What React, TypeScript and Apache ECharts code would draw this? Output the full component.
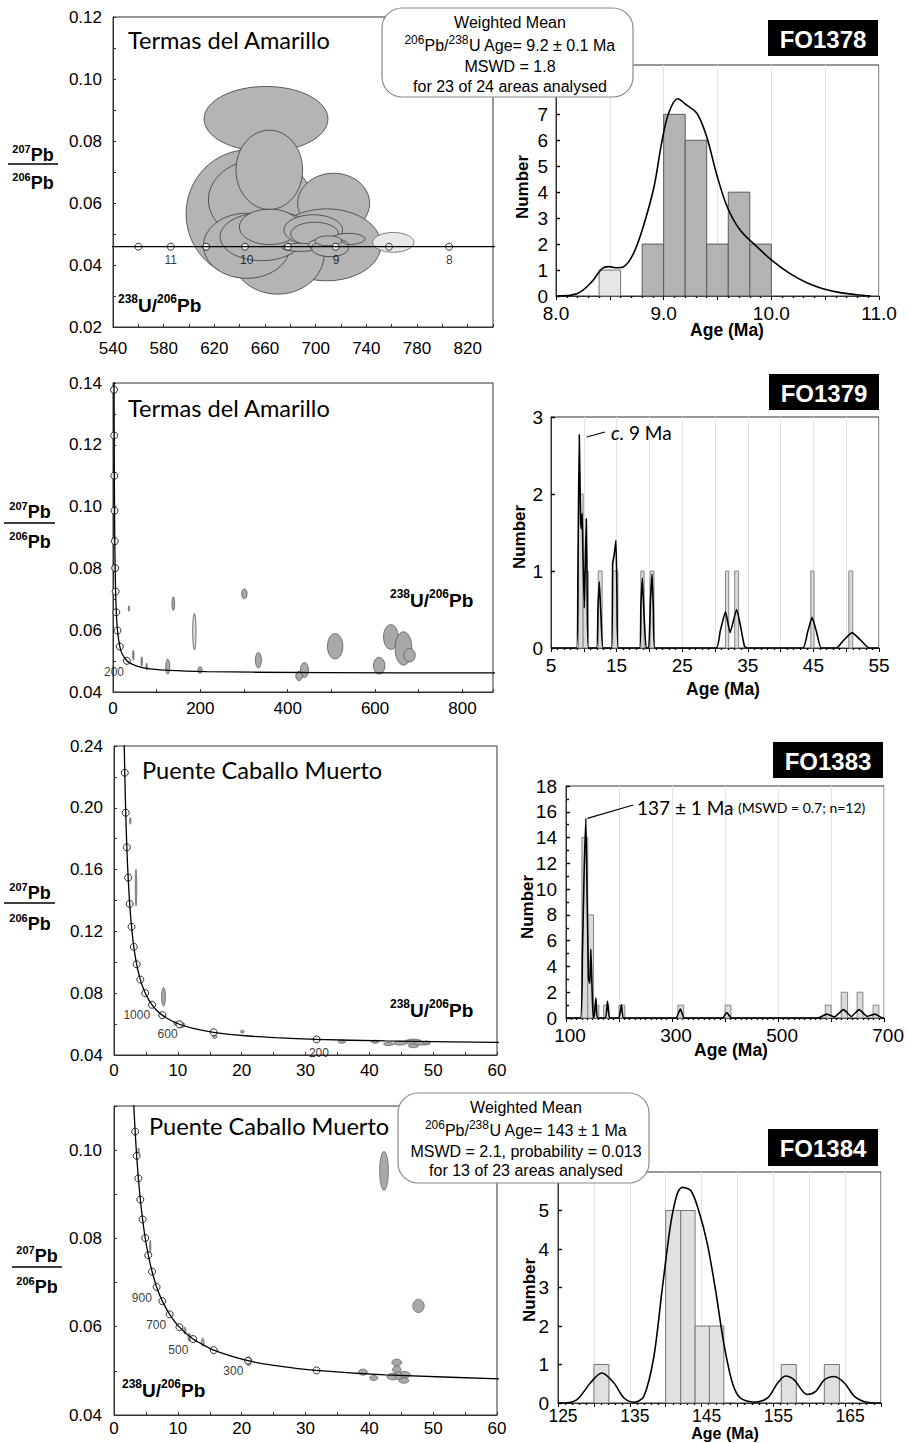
import React, { useEffect, useRef } from "react";
import * as echarts from "echarts";

const FONT = '"Liberation Sans", Arial, Helvetica, sans-serif';
const TFONT = 'Lato, "Open Sans", sans-serif';

// ================= FO1378 – Termas del Amarillo (Tera-Wasserburg) =================
const fo1378Concordia = [[530, 0.0459], [850, 0.0459]];
const fo1378AgeMarks = [[560.1, 0.0459], [585.6, 0.0459], [613.5, 0.0459], [644.2, 0.0459], [678.1, 0.0459], [715.8, 0.0459], [757.9, 0.0459], [805.3, 0.0459]];
const fo1378AgeLabels = [[585.6, 0.0416, "11"], [645.5, 0.0416, "10"], [716.1, 0.0416, "9"], [805.6, 0.0416, "8"]];
// [x, y, rx, ry]
const fo1378Ellipses = [
  [660.8, 0.0871, 48.9, 0.0105],
  [647.4, 0.0565, 49.7, 0.0207],
  [656.1, 0.061, 40.8, 0.0131],
  [663.4, 0.0707, 26.3, 0.0128],
  [714.2, 0.0599, 28.4, 0.0097],
  [708.7, 0.0465, 42.9, 0.0116],
  [670.0, 0.0438, 36.9, 0.0132],
  [645.6, 0.0462, 34.2, 0.0105],
  [657.4, 0.0491, 32.9, 0.0077],
  [663.7, 0.0523, 23.9, 0.0057],
  [698.1, 0.0513, 23.1, 0.0049],
  [699.2, 0.05, 18.9, 0.0038],
  [725.8, 0.0484, 13.2, 0.0018],
  [687.6, 0.0457, 14.5, 0.0013],
  [710.0, 0.0465, 15.8, 0.0022],
  [711.3, 0.0454, 14.5, 0.0027],
  [710.0, 0.0478, 10.5, 0.0016],
];
const fo1378RejectedEllipses = [[761.3, 0.0473, 16.3, 0.0032]];

// FO1378 histogram: [from, to, count]
const fo1378Bins = [[8.8, 9.0, 2], [9.0, 9.2, 7], [9.2, 9.4, 6], [9.4, 9.6, 2], [9.6, 9.8, 4], [9.8, 10.0, 2]];
const fo1378RejectedBins = [[8.4, 8.6, 1]];
const fo1378Pdf = [
  [8.0, 0], [8.2, 0.1], [8.32, 0.49], [8.43, 1.06], [8.49, 1.13], [8.57, 1.09], [8.63, 1.13], [8.72, 1.64],
  [8.81, 2.67], [8.91, 4.2], [8.98, 5.87], [9.045, 7.03], [9.13, 7.6], [9.215, 7.35], [9.31, 7.03], [9.4, 6.13],
  [9.49, 4.72], [9.59, 3.44], [9.71, 2.54], [9.865, 1.9], [10.02, 1.32], [10.17, 0.87], [10.33, 0.51],
  [10.48, 0.28], [10.64, 0.13], [10.79, 0.05], [10.92, 0],
];

// ================= FO1379 – Termas del Amarillo =================
const fo1379Concordia = [
  [2.217, 0.1548], [2.459, 0.1378], [2.749, 0.123], [3.104, 0.11], [3.55, 0.0987], [4.123, 0.0888], [4.888, 0.0801],
  [5.96, 0.0725], [7.568, 0.0658], [10.25, 0.0599], [15.62, 0.0547], [20.99, 0.0523], [31.73, 0.0501], [42.48, 0.0491],
  [63.97, 0.048], [85.45, 0.0475], [128.4, 0.047], [214.4, 0.0466], [321.8, 0.0464], [644.2, 0.0462], [859.0, 0.0462], [900, 0.0462],
];
const fo1379AgeMarks = [
  [2.459, 0.1378], [2.749, 0.123], [3.104, 0.11], [3.55, 0.0987], [4.123, 0.0888], [4.888, 0.0801],
  [5.96, 0.0725], [7.568, 0.0658], [10.25, 0.0599], [15.62, 0.0547], [31.73, 0.0501],
];
const fo1379AgeLabels = [[2.3, 0.0466, "200"]];
const fo1379Ellipses = [
  [508.6, 0.0548, 17.6, 0.0041], [636.2, 0.0578, 16.8, 0.004], [665.0, 0.0541, 19.1, 0.0054], [678.9, 0.0519, 13.0, 0.0022],
  [609.4, 0.0485, 13.0, 0.0027], [438.3, 0.0471, 9.2, 0.0024], [426.1, 0.0452, 7.6, 0.0015], [332.9, 0.0503, 6.9, 0.0025],
  [300.8, 0.0718, 6.1, 0.0016], [199.3, 0.0471, 4.6, 0.0011], [138.1, 0.0686, 3.0, 0.0022], [125.3, 0.0482, 4.6, 0.0024],
  [36.6, 0.067, 1.5, 0.0009], [46.6, 0.0519, 1.5, 0.0016], [65.7, 0.0498, 1.5, 0.0016], [77.1, 0.0482, 1.2, 0.0011],
];
const fo1379LightEllipses = [[186.3, 0.0595, 3.8, 0.0059]];

const fo1379Bins = [
  [9.2, 9.9, 2], [9.9, 10.7, 1], [12.2, 12.8, 1], [14.4, 15.2, 1], [18.7, 19.2, 1], [20.1, 20.7, 1],
  [31.6, 32.1, 1], [33.0, 33.6, 1], [44.6, 45.1, 1], [50.4, 51.0, 1],
];
const fo1379Pdf = [
  [5, 0], [8.9, 0], [9.1, 1.0], [9.31, 2.77], [9.5, 1.7], [9.62, 1.55], [9.75, 1.75], [9.85, 1.3], [10.08, 0.52],
  [10.2, 1.0], [10.38, 1.68], [10.5, 0.9], [10.7, 0], [11.95, 0], [12.15, 0.5], [12.36, 0.86], [12.6, 0.45], [12.95, 0],
  [14.2, 0], [14.4, 1.1], [14.6, 1.19], [14.9, 1.4], [15.05, 0.7], [15.25, 0], [18.5, 0], [18.7, 0.55], [18.92, 0.91],
  [19.15, 0.5], [19.5, 0], [19.9, 0], [20.15, 0.6], [20.4, 0.96], [20.6, 0.5], [20.85, 0], [30.2, 0], [30.8, 0.22],
  [31.6, 0.47], [32.3, 0.2], [33.3, 0.5], [33.9, 0.28], [34.5, 0.02], [35, 0], [43.4, 0], [44.1, 0.2], [44.8, 0.4],
  [45.5, 0.2], [46.2, 0], [48.5, 0], [49.6, 0.1], [50.9, 0.2], [52.1, 0.11], [53.5, 0], [55, 0],
];

// ================= FO1383 – Puente Caballo Muerto =================
const fo1383Concordia = [
  [1.556, 0.2524], [1.62, 0.237], [1.687, 0.2227], [1.76, 0.2093], [1.838, 0.1968], [1.923, 0.1852], [2.013, 0.1744],
  [2.111, 0.1643], [2.217, 0.1548], [2.333, 0.146], [2.459, 0.1378], [2.597, 0.1302], [2.749, 0.123], [2.917, 0.1163],
  [3.104, 0.11], [3.314, 0.1042], [3.55, 0.0987], [3.817, 0.0936], [4.123, 0.0888], [4.476, 0.0843], [4.888, 0.0801],
  [5.375, 0.0762], [5.96, 0.0725], [6.674, 0.069], [7.568, 0.0658], [8.718, 0.0628], [10.25, 0.0599], [12.4, 0.0572],
  [15.62, 0.0547], [20.99, 0.0523], [25.29, 0.0512], [31.73, 0.0501], [42.48, 0.0491], [63.97, 0.048],
];
const fo1383AgeMarks = [
  [1.687, 0.2227], [1.838, 0.1968], [2.013, 0.1744], [2.217, 0.1548], [2.459, 0.1378], [2.749, 0.123], [3.104, 0.11],
  [3.55, 0.0987], [4.123, 0.0888], [4.888, 0.0801], [5.96, 0.0725], [7.568, 0.0658], [10.25, 0.0599], [15.62, 0.0547], [31.73, 0.0501],
];
const fo1383AgeLabels = [[3.56, 0.0659, "1000"], [8.39, 0.0534, "600"], [32.1, 0.0413, "200"]];
const fo1383Ellipses = [
  [7.76, 0.0777, 0.31, 0.006], [3.45, 0.1483, 0.12, 0.0119], [2.55, 0.1915, 0.12, 0.0022], [10.6, 0.0594, 0.52, 0.0017],
  [9.7, 0.0604, 0.35, 0.0013], [15.8, 0.0518, 0.36, 0.0011], [20.1, 0.0551, 0.31, 0.0009], [31.8, 0.0501, 0.6, 0.0013],
  [35.7, 0.0486, 0.6, 0.001], [40.9, 0.0486, 0.6, 0.001], [43.0, 0.0471, 0.78, 0.001], [44.8, 0.0476, 1.0, 0.0012],
  [46.9, 0.0486, 1.3, 0.0017], [46.9, 0.0459, 0.78, 0.0012], [48.2, 0.0476, 1.3, 0.0012], [49.0, 0.048, 0.6, 0.001],
];

const fo1383Bins = [
  [130, 141, 14], [141, 152, 8], [152, 162, 1], [171, 181, 1], [200, 211, 1], [311, 322, 1], [400, 411, 1],
  [589, 600, 1], [619, 631, 2], [649, 660, 2], [679, 690, 1],
];
const fo1383Pdf = [
  [100, 0], [127, 0], [131, 5], [134, 11], [137.5, 15.5], [140, 9], [142.5, 3], [145, 2.7], [146.9, 5.35], [149, 2.5],
  [151.2, 0], [153.5, 0.2], [156.3, 1.55], [159.4, 0], [174.4, 0], [178.2, 1.29], [182.5, 0], [199.5, 0], [204.5, 1.03],
  [209, 0], [307, 0], [315.8, 0.7], [323, 0], [395, 0], [403.3, 0.43], [412, 0], [575, 0], [592, 0.3], [606, 0.08],
  [623.5, 0.65], [638, 0.12], [652.9, 0.65], [668, 0.12], [682.9, 0.3], [697, 0], [700, 0],
];

// ================= FO1384 – Puente Caballo Muerto =================
const fo1384Concordia = [
  [2.917, 0.1163], [3.104, 0.11], [3.314, 0.1042], [3.55, 0.0987], [3.817, 0.0936], [4.123, 0.0888], [4.476, 0.0843],
  [4.888, 0.0801], [5.375, 0.0762], [5.96, 0.0725], [6.674, 0.069], [7.568, 0.0658], [8.718, 0.0628], [10.25, 0.0599],
  [12.4, 0.0572], [15.62, 0.0547], [20.99, 0.0523], [25.29, 0.0512], [31.73, 0.0501], [42.48, 0.0491], [63.97, 0.048],
];
const fo1384AgeMarks = [
  [3.314, 0.1042], [3.55, 0.0987], [3.817, 0.0936], [4.123, 0.0888], [4.476, 0.0843], [4.888, 0.0801], [5.375, 0.0762],
  [5.96, 0.0725], [6.674, 0.069], [7.568, 0.0658], [8.718, 0.0628], [10.25, 0.0599], [12.4, 0.0572], [15.62, 0.0547],
  [20.99, 0.0523], [31.73, 0.0501],
];
const fo1384AgeLabels = [[4.36, 0.0666, "900"], [6.61, 0.0604, "700"], [10.08, 0.0547, "500"], [18.7, 0.05, "300"]];
const fo1384Ellipses = [
  [42.3, 0.0953, 0.68, 0.0044], [47.7, 0.0647, 0.89, 0.0015], [44.3, 0.0519, 0.78, 0.00075], [44.3, 0.0503, 0.68, 0.00075],
  [39.0, 0.0497, 0.68, 0.0007], [40.7, 0.0484, 0.63, 0.0006], [43.7, 0.0487, 0.94, 0.00075], [45.4, 0.0491, 1.04, 0.00075],
  [45.4, 0.0478, 0.78, 0.0006], [44.6, 0.0489, 0.52, 0.0009], [21.1, 0.0522, 0.42, 0.001], [13.9, 0.0565, 0.21, 0.0009],
  [11.8, 0.0576, 0.21, 0.0009], [11.1, 0.0591, 0.16, 0.0008], [5.68, 0.0781, 0.1, 0.0015], [3.85, 0.0996, 0.1, 0.0009],
];

const fo1384Bins = [
  [130, 132.1, 1], [140, 142.1, 5], [142.1, 144.1, 5], [144.1, 146.1, 2], [146.1, 148.1, 2], [156.1, 158.2, 1], [162.1, 164.2, 1],
];
const fo1384Pdf = [
  [125, 0], [125.6, 0], [127.65, 0.09], [129.5, 0.52], [131.1, 0.78], [132.8, 0.52], [134.2, 0.13], [135.6, 0.02],
  [136.95, 0.17], [138.35, 1.2], [139.5, 2.93], [140.7, 4.65], [141.6, 5.43], [142.3, 5.6], [143.5, 5.52], [144.6, 5.0],
  [145.8, 4.14], [146.95, 2.93], [148.1, 1.55], [149.3, 0.52], [150.4, 0.13], [152.3, 0.02], [154.2, 0.13], [155.6, 0.52],
  [156.7, 0.7], [157.9, 0.6], [159.7, 0.22], [160.9, 0.3], [162.1, 0.6], [163.5, 0.69], [164.9, 0.52], [166.3, 0.17],
  [167.7, 0.03], [169, 0], [170, 0],
];

// ---------------- helpers ----------------
const isMult = (v: number, base: number, step: number) => {
  const k = (v - base) / step;
  return Math.abs(k - Math.round(k)) < 1e-6;
};

const ellipseSeries = (idx: number, data: number[][], fill: string, stroke: string) => ({
  type: "custom",
  xAxisIndex: idx,
  yAxisIndex: idx,
  clip: true,
  silent: true,
  data,
  encode: { x: 0, y: 1 },
  renderItem: (_p: any, api: any) => {
    const c = api.coord([api.value(0), api.value(1)]);
    const s = api.size([api.value(2), api.value(3)]);
    return {
      type: "ellipse",
      shape: { cx: c[0], cy: c[1], rx: Math.max(s[0], 0.6), ry: Math.max(s[1], 0.6) },
      style: { fill, stroke, lineWidth: 0.8 },
    };
  },
});

const binSeries = (idx: number, data: number[][], fill: string, stroke: string) => ({
  type: "custom",
  xAxisIndex: idx,
  yAxisIndex: idx,
  silent: true,
  data,
  encode: { x: [0, 1], y: 2 },
  renderItem: (_p: any, api: any) => {
    const a = api.coord([api.value(0), 0]);
    const b = api.coord([api.value(1), api.value(2)]);
    return {
      type: "rect",
      shape: { x: a[0], y: b[1], width: b[0] - a[0], height: a[1] - b[1] },
      style: { fill, stroke, lineWidth: 1 },
    };
  },
});

const lineSeries = (idx: number, data: number[][], smooth: number, width = 1.3) => ({
  type: "line",
  xAxisIndex: idx,
  yAxisIndex: idx,
  data,
  showSymbol: false,
  silent: true,
  smooth,
  clip: true,
  lineStyle: { color: "#000", width },
});

const markSeries = (idx: number, data: number[][]) => ({
  type: "scatter",
  xAxisIndex: idx,
  yAxisIndex: idx,
  data,
  symbol: "circle",
  symbolSize: 7,
  silent: true,
  clip: false,
  itemStyle: { color: "#fff", borderColor: "#000", borderWidth: 1 },
});

const labelSeries = (idx: number, data: any[][]) => ({
  type: "scatter",
  xAxisIndex: idx,
  yAxisIndex: idx,
  data,
  symbolSize: 1,
  silent: true,
  clip: false,
  itemStyle: { color: "rgba(0,0,0,0)" },
  label: {
    show: true,
    position: "inside",
    formatter: (p: any) => String(p.value[2]),
    fontFamily: FONT,
    fontSize: 12,
    color: "#000",
    textBorderWidth: 0,
  },
});

const axisBase = {
  type: "value",
  axisLine: { show: true, onZero: false, lineStyle: { color: "#333", width: 1 } },
  splitLine: { show: false },
};

const concX = (gi: number, min: number, max: number, interval: number, labelStep: number, margin: number) => ({
  ...axisBase,
  gridIndex: gi,
  min,
  max,
  interval,
  axisTick: { show: true, inside: true, length: 3, lineStyle: { color: "#333" } },
  axisLabel: {
    fontFamily: FONT,
    fontSize: 17,
    color: "#000",
    margin,
    formatter: (v: number) => (isMult(v, min, labelStep) && v <= max ? String(v) : ""),
  },
});

const concY = (gi: number, min: number, max: number, interval: number, margin: number) => ({
  ...axisBase,
  gridIndex: gi,
  min,
  max,
  interval,
  axisTick: { show: true, inside: true, length: 3, lineStyle: { color: "#333" } },
  minorTick: { show: true, splitNumber: 2, length: 3, lineStyle: { color: "#333" } },
  axisLabel: {
    fontFamily: FONT,
    fontSize: 17,
    color: "#000",
    margin,
    formatter: (v: number) => (isMult(v, min, interval) && v <= max + 1e-9 && isMult(v, 0, interval) ? v.toFixed(2) : ""),
  },
});

const histX = (
  gi: number, min: number, max: number, interval: number, labelStep: number, minorSplit: number,
  fmt: (v: number) => string, fontSize = 19, margin = 8, padLeft = 0
) => ({
  ...axisBase,
  gridIndex: gi,
  min,
  max,
  interval,
  splitLine: { show: true, lineStyle: { color: "#e4e4e4", width: 1 } },
  axisTick: { show: true, inside: false, length: 4, lineStyle: { color: "#000" } },
  minorTick: { show: true, splitNumber: minorSplit, length: 2, lineStyle: { color: "#000", width: 1.4 } },
  axisLabel: {
    fontFamily: FONT,
    fontSize,
    color: "#000",
    margin,
    padding: [0, 0, 0, padLeft],
    formatter: (v: number) => (isMult(v, min, labelStep) ? fmt(v) : ""),
  },
});

// labels above `lastLabel` are hidden behind the callout boxes in the original
const histY = (gi: number, max: number, interval: number, minor: boolean, lastLabel: number, margin = 8) => ({
  ...axisBase,
  gridIndex: gi,
  min: 0,
  max,
  interval,
  axisTick: { show: true, inside: true, length: 4, lineStyle: { color: "#000", width: 1.4 } },
  minorTick: { show: minor, splitNumber: 2, length: 3, lineStyle: { color: "#000", width: 1.4 } },
  axisLabel: {
    fontFamily: FONT,
    fontSize: 19,
    color: "#000",
    margin,
    formatter: (v: number) => (isMult(v, 0, interval) && v <= lastLabel + 1e-9 ? String(Math.round(v)) : ""),
  },
});

// ---------------- graphic helpers ----------------
const text = (x: number, y: number, t: string, o: any = {}) => ({
  type: "text",
  x,
  y,
  z: 100,
  silent: true,
  style: {
    text: t,
    fontFamily: FONT,
    fontSize: 16,
    fill: "#000",
    textAlign: "center",
    textVerticalAlign: "middle",
    ...o,
  },
});

const supRich = (main: number, sup: number) => ({
  s: { fontFamily: FONT, fontSize: sup, fontWeight: "bold", lineHeight: sup + 1, verticalAlign: "top" },
  b: { fontFamily: FONT, fontSize: main, fontWeight: "bold", lineHeight: main + 6 },
});

const fraction = (cx: number, yTop: number, yLine: number, yBot: number, x1: number, x2: number) => [
  text(cx, yTop, "{s|207}{b|Pb}", { rich: supRich(18, 11) }),
  { type: "line", z: 100, silent: true, shape: { x1, y1: yLine, x2, y2: yLine }, style: { stroke: "#000", lineWidth: 1.5 } },
  text(cx, yBot, "{s|206}{b|Pb}", { rich: supRich(18, 11) }),
];

const ratio = (x: number, y: number) =>
  text(x, y, "{s|238}{b|U/}{s|206}{b|Pb}", { textAlign: "left", rich: supRich(19, 12) });

const title = (x: number, y: number, t: string) =>
  text(x, y, t, { textAlign: "left", fontFamily: TFONT, fontSize: 23.6 });

const sampleBox = (x: number, y: number, w: number, h: number, t: string) => [
  { type: "rect", z: 100, silent: true, shape: { x, y, width: w, height: h }, style: { fill: "#000" } },
  text(x + w / 2, y + h / 2 + 1, t, { fill: "#fff", fontWeight: "bold", fontSize: 24 }),
];

const calloutRich = {
  s: { fontFamily: FONT, fontSize: 12, lineHeight: 12, verticalAlign: "top" },
  n: { fontFamily: FONT, fontSize: 16, lineHeight: 22 },
};

const callout = (x: number, y: number, w: number, h: number, cx: number, lines: [number, string][]) => [
  {
    type: "rect",
    z: 99,
    silent: true,
    shape: { x, y, width: w, height: h, r: 20 },
    style: { fill: "#fff", stroke: "#8a8a8a", lineWidth: 1.2 },
  },
  ...lines.map(([ly, t]) => text(cx, ly, t, { rich: calloutRich })),
];

const axisTitleY = (x: number, y: number) =>
  ({ ...text(x, y, "Number", { fontWeight: "bold", fontSize: 17 }), rotation: Math.PI / 2 });
const axisTitleX = (x: number, y: number, size = 17.5) => text(x, y, "Age (Ma)", { fontWeight: "bold", fontSize: size });

function buildOption() {
  const gridBase = { show: true, borderColor: "#333", borderWidth: 1, backgroundColor: "transparent", containLabel: false };
  const grid = [
    { left: 113, top: 17, width: 380, height: 310 },
    { left: 556, top: 65, width: 323, height: 231 },
    { left: 113, top: 383, width: 380, height: 309 },
    { left: 551, top: 417, width: 328, height: 231 },
    { left: 114, top: 746, width: 383, height: 309 },
    { left: 566, top: 786, width: 320, height: 232 },
    { left: 114, top: 1106, width: 383, height: 309 },
    { left: 558, top: 1172, width: 323, height: 231 },
  ].map((g) => ({ ...gridBase, ...g }));

  const xAxis = [
    concX(0, 540, 840, 20, 40, 13),
    histX(1, 8, 11, 0.5, 1, 5, (v) => v.toFixed(1)),
    concX(2, 0, 870, 100, 200, 8),
    histX(3, 5, 55, 5, 10, 5, (v) => String(v)),
    concX(4, 0, 60, 5, 10, 7),
    histX(5, 100, 700, 100, 200, 10, (v) => String(v), 19, 8, 8),
    concX(6, 0, 60, 5, 10, 5),
    histX(7, 125, 170, 5, 10, 5, (v) => String(v), 17.5, 4, 10),
  ];
  const yAxis = [
    concY(0, 0.02, 0.12, 0.02, 11),
    histY(1, 8.9, 1, false, 7),
    concY(2, 0.04, 0.14, 0.02, 11),
    histY(3, 3, 1, false, 3),
    concY(4, 0.04, 0.24, 0.04, 11),
    histY(5, 18, 2, true, 18, 9),
    concY(6, 0.04, 0.11, 0.02, 12),
    histY(7, 6, 1, false, 5, 9),
  ];

  const series: any[] = [
    // panel 0
    ellipseSeries(0, fo1378Ellipses, "#b4b4b4", "#3a3a3a"),
    ellipseSeries(0, fo1378RejectedEllipses, "#e8e8e8", "#666"),
    lineSeries(0, fo1378Concordia, 0, 1.2),
    markSeries(0, fo1378AgeMarks),
    labelSeries(0, fo1378AgeLabels),
    // panel 1
    binSeries(1, fo1378Bins, "#b3b3b3", "#5a5a5a"),
    binSeries(1, fo1378RejectedBins, "#e6e6e6", "#777"),
    lineSeries(1, fo1378Pdf, 0.35, 1.6),
    // panel 2
    lineSeries(2, fo1379Concordia, 0.2, 1.3),
    markSeries(2, fo1379AgeMarks),
    ellipseSeries(2, fo1379Ellipses, "#a9a9a9", "#555"),
    ellipseSeries(2, fo1379LightEllipses, "#dcdcdc", "#555"),
    labelSeries(2, fo1379AgeLabels),
    // panel 3
    binSeries(3, fo1379Bins, "#dadada", "#888"),
    lineSeries(3, fo1379Pdf, 0.15, 1.6),
    // panel 4
    lineSeries(4, fo1383Concordia, 0.2, 1.3),
    markSeries(4, fo1383AgeMarks),
    ellipseSeries(4, fo1383Ellipses, "#a9a9a9", "#666"),
    labelSeries(4, fo1383AgeLabels),
    // panel 5
    binSeries(5, fo1383Bins, "#dadada", "#888"),
    lineSeries(5, fo1383Pdf, 0.15, 1.6),
    // panel 6
    lineSeries(6, fo1384Concordia, 0.2, 1.3),
    markSeries(6, fo1384AgeMarks),
    ellipseSeries(6, fo1384Ellipses, "#a9a9a9", "#666"),
    labelSeries(6, fo1384AgeLabels),
    // panel 7
    binSeries(7, fo1384Bins, "#e0e0e0", "#777"),
    lineSeries(7, fo1384Pdf, 0.3, 1.6),
  ];

  const graphic: any[] = [
    // panel titles
    title(128, 40, "Termas del Amarillo"),
    title(128, 408, "Termas del Amarillo"),
    title(142, 770, "Puente Caballo Muerto"),
    title(149, 1126, "Puente Caballo Muerto"),
    // y-axis fraction labels
    ...fraction(33, 155, 164, 183, 8, 58),
    ...fraction(30, 512, 523, 542, 4, 55),
    ...fraction(30, 893, 903, 924, 4, 55),
    ...fraction(37, 1256, 1267, 1287, 12, 62),
    // x ratio labels
    ratio(118, 305),
    ratio(390, 600),
    ratio(390, 1010),
    ratio(122, 1390),
    // sample boxes
    ...sampleBox(768, 20, 110, 36, "FO1378"),
    ...sampleBox(769, 374, 110, 36, "FO1379"),
    ...sampleBox(773, 742, 110, 36, "FO1383"),
    ...sampleBox(768, 1129, 110, 37, "FO1384"),
    // callouts
    ...callout(382, 8, 251, 89, 510, [
      [22.5, "{n|Weighted Mean}"],
      [45, "{s|206}{n|Pb/}{s|238}{n|U Age= 9.2 ± 0.1 Ma}"],
      [66.5, "{n|MSWD = 1.8}"],
      [86, "{n|for 23 of 24 areas analysed}"],
    ]),
    ...callout(398, 1093, 251, 90, 526, [
      [1107, "{n|Weighted Mean}"],
      [1130, "{s|206}{n|Pb/}{s|238}{n|U Age= 143 ± 1 Ma}"],
      [1151, "{n|MSWD = 2.1, probability = 0.013}"],
      [1170, "{n|for 13 of 23 areas analysed}"],
    ]),
    // histogram axis titles
    axisTitleY(522, 187),
    axisTitleX(727, 330),
    axisTitleY(519, 537),
    axisTitleX(723, 689),
    axisTitleY(527, 907),
    axisTitleX(731, 1050),
    axisTitleY(529, 1290),
    axisTitleX(725, 1433, 16),
    // annotations
    { type: "line", z: 100, silent: true, shape: { x1: 586.7, y1: 437, x2: 605, y2: 432 }, style: { stroke: "#000", lineWidth: 1.2 } },
    text(611, 432, "{i|c.}{n| 9 Ma}", {
      textAlign: "left",
      rich: {
        i: { fontFamily: TFONT, fontSize: 19, fontStyle: "italic" },
        n: { fontFamily: TFONT, fontSize: 19 },
      },
    }),
    { type: "line", z: 100, silent: true, shape: { x1: 587.3, y1: 818.3, x2: 633.3, y2: 805 }, style: { stroke: "#000", lineWidth: 1.2 } },
    text(637, 807, "{a|137 ± 1 Ma} {b|(MSWD = 0.7; n=12)}", {
      textAlign: "left",
      rich: {
        a: { fontFamily: TFONT, fontSize: 19 },
        b: { fontFamily: TFONT, fontSize: 14 },
      },
    }),
  ];

  return {
    animation: false,
    backgroundColor: "#fff",
    textStyle: { fontFamily: FONT },
    grid,
    xAxis,
    yAxis,
    series,
    graphic: { elements: graphic },
  };
}

export default function App() {
  const ref = useRef<HTMLDivElement>(null);
  useEffect(() => {
    document.body.style.margin = "0";
    if (!ref.current) return;
    const chart = echarts.init(ref.current, undefined, { renderer: "svg" });
    chart.setOption(buildOption() as any);
    return () => chart.dispose();
  }, []);
  return (
    <div
      ref={ref}
      style={{ position: "absolute", left: 0, top: 0, width: 907, height: 1443, background: "#fff" }}
    />
  );
}
